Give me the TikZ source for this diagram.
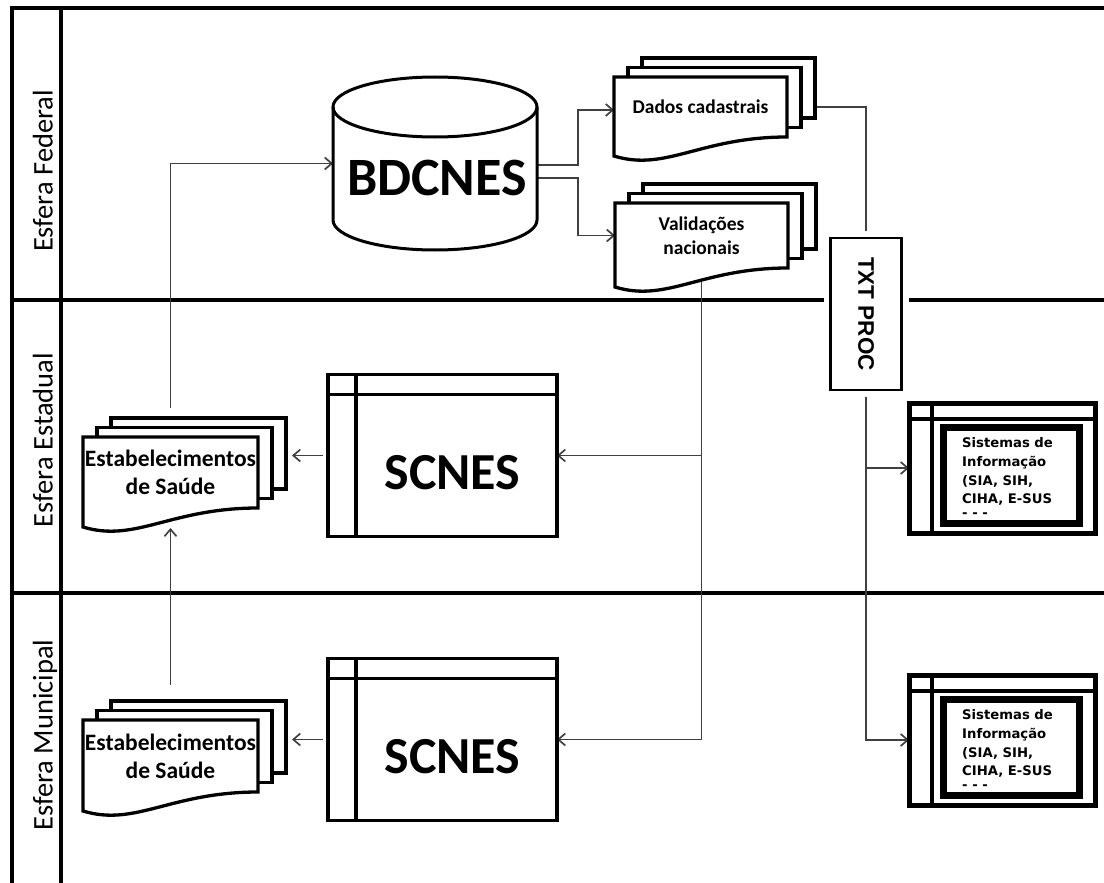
\documentclass[tikz,border=0pt]{standalone}
\usepackage{fontspec}
\setmainfont{Carlito}
\newfontfamily\sisfont{DejaVu Sans}
\newfontfamily\procfont{Liberation Sans}
\usepackage{tikz}
\usetikzlibrary{positioning,arrows.meta,backgrounds}
\newcommand{\docstack}[7]{%
  \foreach \k in {2,1}{
    \node[docback, minimum width=#4pt, minimum height=#5pt, anchor=north west] (#1-\k) at ({#2+14*\k},{-#3+9.5*\k}) {};
  }
  \draw[docline, fill=white] (#2,-#3) -- ++(#4,0) -- ++(0,-#5)
    .. controls ({#2+0.5*#4},{-#3-#5}) and ({#2+0.3*#4},{-#3-#5-35}) .. (#2,{-#3-#5-19}) -- cycle;
  \node[#6, minimum width=#4pt, minimum height=#5pt, anchor=north west] (#1) at (#2,-#3) {#7};
}

\begin{document}
\begin{tikzpicture}[x=1pt, y=1pt, >={Straight Barb[length=7pt,width=12pt]},
    lane/.style={line width=3.2pt},
    conn/.style={line width=1.7pt, black!75},
    lanelabel/.style={rotate=90, text height=21pt, text depth=6pt, font=\fontsize{28.5}{34}\selectfont},
    docback/.style={draw, fill=white, line width=3.3pt, inner sep=0pt, outer sep=0pt},
    docline/.style={line width=3.3pt},
    doctext/.style={align=center, inner sep=0pt, outer sep=0pt},
    docsmall/.style={doctext, font=\bfseries\fontsize{19.5}{23.5}\selectfont},
    docbig/.style={doctext, font=\bfseries\fontsize{23.5}{28}\selectfont},
    bigword/.style={inner sep=0pt, font=\bfseries\fontsize{52}{60}\selectfont},
    dbnode/.style={minimum width=204pt, minimum height=173pt, inner sep=0pt, outer sep=0pt},
    dbline/.style={line width=3pt},
    winbox/.style={draw, line width=3.2pt, minimum width=229pt, minimum height=162pt, outer sep=0pt},
    winline/.style={line width=3.2pt},
    sisbox/.style={draw, line width=5pt, minimum width=186pt, minimum height=130pt, outer sep=0pt},
    sisin/.style={draw, line width=7pt, minimum width=136pt, minimum height=96pt, outer sep=0pt},
    sistext/.style={align=left, inner sep=0pt, font=\sisfont\bfseries\fontsize{13.2}{18.7}\selectfont},
    procbox/.style={draw, fill=white, line width=2.8pt, minimum width=71pt, minimum height=152pt, outer sep=0pt,
        preaction={draw=white, line width=14pt}, font=\procfont\bfseries\fontsize{22.5}{26}\selectfont}]
    \useasboundingbox (0,0) rectangle (1104,-883);

    % Lane labels
    \node[lanelabel] (fed) at (45,-171) {Esfera Federal};
    \node[lanelabel] (est) at (45,-440) {Esfera Estadual};
    \node[lanelabel] (mun) at (45,-735) {Esfera Municipal};

    % BDCNES database
    \node[dbnode] (bd) at (435,-163.5) {};
    \draw[dbline] ([yshift=-30pt]bd.north) ellipse[x radius=102pt, y radius=30pt];
    \draw[dbline] ([yshift=-30pt]bd.north west) -- ([yshift=30pt]bd.south west)
        arc[start angle=180, end angle=360, x radius=102pt, y radius=30pt] -- ([yshift=-30pt]bd.north east);
    \node[bigword, font=\bfseries\fontsize{54}{60}\selectfont] (bdtxt) at ([xshift=2pt,yshift=-14pt]bd.center) {BDCNES};

    % Document stacks
    \docstack{dados}{614}{77}{173}{60}{docsmall}{Dados cadastrais}
    \docstack{valid}{615}{203}{173}{65}{docsmall}{Validações\\nacionais}
    \docstack{estabE}{83}{437}{175}{71}{docbig}{Estabelecimentos\\de Saúde}
    \docstack{estabM}{83}{720}{175}{72}{docbig}{Estabelecimentos\\de Saúde}

    % SCNES windows
    \foreach \n/\y in {scnesE/455.5, scnesM/739.5}{
        \node[winbox] (\n) at (442.5,-\y) {};
        \draw[winline] ([yshift=-20pt]\n.north west) -- ([yshift=-20pt]\n.north east);
        \draw[winline] ([xshift=28pt]\n.north west) -- ([xshift=28pt]\n.south west);
        \node[bigword] (\n-txt) at ([xshift=10pt,yshift=-17pt]\n.center) {SCNES};
    }

    % TXT PROC
    \node[procbox] (txt) at (866,-314) {\rotatebox{-90}{TXT PROC}};

    % Sistemas de Informacao
    \foreach \n/\y in {sistE/468, sistM/740}{
        \node[sisbox] (\n) at (1002,-\y) {};
        \draw[line width=4.5pt] ([yshift=-16pt]\n.north west) -- ([yshift=-16pt]\n.north east);
        \draw[line width=4.5pt] ([xshift=23pt]\n.north west) -- ([xshift=23pt]\n.south west);
        \node[sisin] (\n-in) at ([xshift=9pt,yshift=-7.5pt]\n.center) {};
        \node[sistext, anchor=north west] (\n-txt) at ([xshift=19pt,yshift=-10pt]\n-in.north west)
            {Sistemas de\\Informação\\(SIA, SIH,\\CIHA, E-SUS\\[-5pt]-~-~-};
    }

    \begin{scope}[on background layer]
        % Lanes
        \draw[lane] (12,-883) -- (12,-8) -- (1104,-8);
        \draw[lane] (61,-8) -- (61,-883);
        \draw[lane] (12,-300) -- (1104,-300);
        \draw[lane] (12,-593) -- (1104,-593);

        % Connectors
        \draw[conn, ->] ([yshift=29pt]estabE.north) |- (bd.west);
        \draw[conn, ->] ([yshift=-1.5pt]bd.east) -- ++(41,0) |- ([yshift=-3pt]dados.west);
        \draw[conn, ->] ([yshift=-14.5pt]bd.east) -- ++(41,0) |- (valid.west);
        \draw[conn] (dados-2.east |- dados.west) -| (txt.north);
        \draw[conn, ->] (txt.south) |- (sistE.west);
        \draw[conn, ->] (txt.south) |- (sistM.west);
        \draw[conn, ->] (valid.south) |- (scnesE.east);
        \draw[conn, ->] (valid.south) |- (scnesM.east);
        \draw[conn, ->, shorten <=5pt, shorten >=6pt] (scnesE.west) -- (scnesE.west -| estabE-2.east);
        \draw[conn, ->, shorten <=5pt, shorten >=6pt] (scnesM.west) -- (scnesM.west -| estabM-2.east);
        \draw[conn, ->] ([yshift=35pt]estabM.north) -- ([yshift=-20pt]estabE.south);
    \end{scope}
\end{tikzpicture}
\end{document}
